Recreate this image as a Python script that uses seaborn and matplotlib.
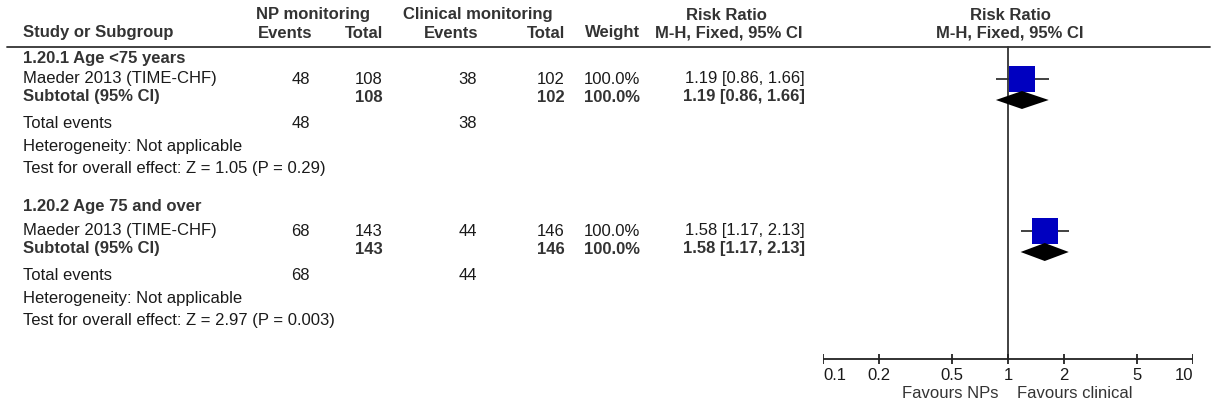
import matplotlib
matplotlib.use("Agg")
import matplotlib.pyplot as plt
import seaborn as sns
import pandas as pd

# ---------------- data ----------------
subgroups = ["1.20.1 Age <75 years", "1.20.2 Age 75 and over"]
study = ["Maeder 2013 (TIME-CHF)", "Maeder 2013 (TIME-CHF)"]
np_events = [48, 68]
np_total = [108, 143]
cl_events = [38, 44]
cl_total = [102, 146]
weights = ["100.0%", "100.0%"]
rr = [1.19, 1.58]
rr_lo = [0.86, 1.17]
rr_hi = [1.66, 2.13]
tests = ["Test for overall effect: Z = 1.05 (P = 0.29)",
         "Test for overall effect: Z = 2.97 (P = 0.003)"]
tick_vals = [0.1, 0.2, 0.5, 1, 2, 5, 10]
tick_labels = ["0.1", "0.2", "0.5", "1", "2", "5", "10"]

# ---------------- layout ----------------
W, H = 1213, 405
sns.set_theme(style="white")
plt.rcParams["font.family"] = ["Liberation Sans", "DejaVu Sans"]
FS = 12
TXT = "#1a1a1a"
BLD = "#333333"

fig = plt.figure(figsize=(W / 100, H / 100), dpi=100)
bg = fig.add_axes([0, 0, 1, 1])
bg.set_xlim(0, W)
bg.set_ylim(H, 0)
bg.axis("off")

def t(x, y, s, ha="left", bold=False):
    bg.text(x, y, s, ha=ha, va="center", fontsize=FS,
            fontweight="bold" if bold else "normal",
            color=BLD if bold else TXT)

# header
t(313, 15, "NP monitoring", "center", True)
t(478, 15, "Clinical monitoring", "center", True)
t(726, 15, "Risk Ratio", "center", True)
t(1010, 15, "Risk Ratio", "center", True)
t(23, 33, "Study or Subgroup", bold=True)
t(312, 33, "Events", "right", True)
t(383, 33, "Total", "right", True)
t(478, 33, "Events", "right", True)
t(565, 33, "Total", "right", True)
t(640, 33, "Weight", "right", True)
t(729, 33, "M-H, Fixed, 95% CI", "center", True)
t(1010, 33, "M-H, Fixed, 95% CI", "center", True)
bg.plot([7, 1210], [47, 47], color="#333333", lw=1.3)

# rows per subgroup: section, study, subtotal, total events, heterogeneity, test
row_sets = [
    dict(sec=59, stu=79, sub=97, tot=123, het=146, tst=168),
    dict(sec=207, stu=231, sub=249, tot=275, het=298, tst=320),
]
for i, r in enumerate(row_sets):
    t(23, r["sec"], subgroups[i], bold=True)
    t(23, r["stu"], study[i])
    t(310, r["stu"], str(np_events[i]), "right")
    t(383, r["stu"], str(np_total[i]), "right")
    t(477, r["stu"], str(cl_events[i]), "right")
    t(565, r["stu"], str(cl_total[i]), "right")
    t(640, r["stu"], weights[i], "right")
    t(805, r["stu"], f"{rr[i]:.2f} [{rr_lo[i]:.2f}, {rr_hi[i]:.2f}]", "right")
    t(23, r["sub"], "Subtotal (95% CI)", bold=True)
    t(383, r["sub"], str(np_total[i]), "right", True)
    t(565, r["sub"], str(cl_total[i]), "right", True)
    t(640, r["sub"], weights[i], "right", True)
    t(805, r["sub"], f"{rr[i]:.2f} [{rr_lo[i]:.2f}, {rr_hi[i]:.2f}]", "right", True)
    t(23, r["tot"], "Total events")
    t(310, r["tot"], str(np_events[i]), "right")
    t(477, r["tot"], str(cl_events[i]), "right")
    t(23, r["het"], "Heterogeneity: Not applicable")
    t(23, r["tst"], tests[i])

# ---------------- forest panel ----------------
x0, x1 = 823, 1193
ax = fig.add_axes([x0 / W, 0, (x1 - x0) / W, 1])
ax.set_xscale("log")
ax.set_xlim(0.1, 10)
ax.set_ylim(H, 0)
ax.axis("off")
ax.patch.set_alpha(0)

AXY = 359
ax.plot([1, 1], [47, AXY], color="#333333", lw=1.3, zorder=1)
ax.plot([0.1, 10], [AXY, AXY], color="#222222", lw=1.3, zorder=1)
ax.vlines(tick_vals, AXY - 5, AXY + 5, color="#222222", lw=1.3)
for k, (v, lab) in enumerate(zip(tick_vals, tick_labels)):
    ha = "left" if k == 0 else ("right" if k == len(tick_vals) - 1 else "center")
    ax.text(v, AXY + 17, lab, ha=ha, va="center", fontsize=FS, color=TXT)
ax.text(0.883, 393, "Favours NPs", ha="right", va="center", fontsize=FS, color="#333333")
ax.text(1.12, 393, "Favours clinical", ha="left", va="center", fontsize=FS, color="#333333")

ys = [r["stu"] for r in row_sets]
df = pd.DataFrame({"rr": rr, "y": ys})
ax.hlines(ys, rr_lo, rr_hi, color="#333333", lw=1.3, zorder=2)
sns.scatterplot(data=df, x="rr", y="y", marker="s", s=355, color="#0000C0",
                linewidth=0, ax=ax, zorder=3, legend=False)
for i, r in enumerate(row_sets):
    yd = r["stu"] + 21
    ax.fill([rr_lo[i], rr[i], rr_hi[i], rr[i]], [yd, yd - 9, yd, yd + 9],
            color="black", zorder=4, lw=0)
ax.set_xlim(0.1, 10)
ax.set_ylim(H, 0)
ax.axis("off")

fig.savefig("out.png", dpi=100)
